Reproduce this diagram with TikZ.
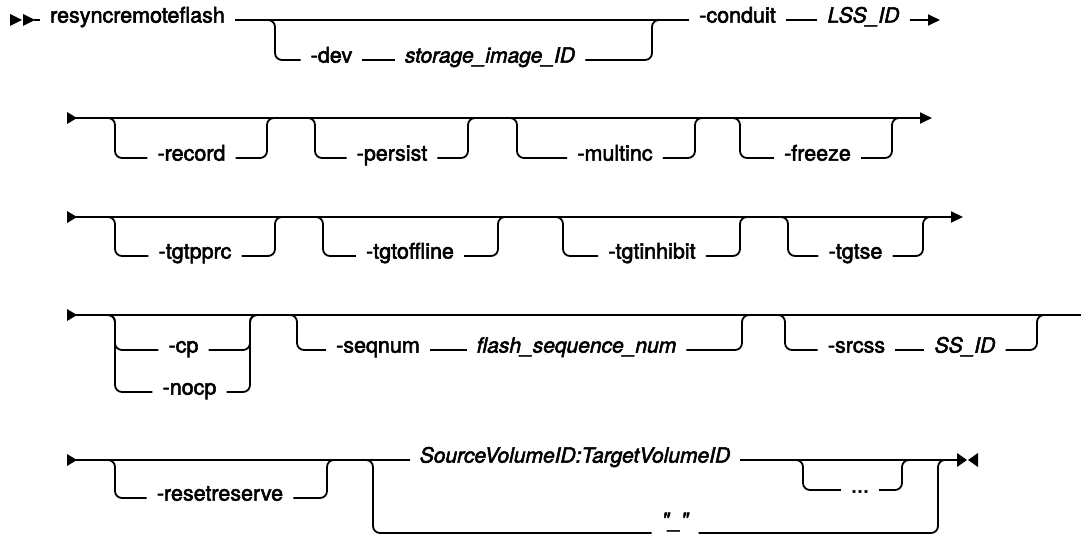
\documentclass[tikz,border=0pt]{standalone}
\usepackage{fontspec}
\newfontfamily\railfont{texgyreheros}[
    Extension=.otf,
    UprightFont=*-regular,
    ItalicFont=*-italic,
    FakeBold=2.5
]
\usetikzlibrary{arrows.meta}

\begin{document}
\begin{tikzpicture}[
    x=1pt, y=-1pt,
    rail/.style={line width=1.8pt, rounded corners=7pt},
    endtip/.style={-{Triangle[length=12pt, width=11pt]}},
    kw/.style={
        font=\railfont\fontsize{21.5}{26}\selectfont,
        inner xsep=10pt,
        inner ysep=0pt,
        text height=0.75em,
        text depth=0.23em
    },
    var/.style={kw, font=\railfont\itshape\fontsize{21}{26}\selectfont}
]
\useasboundingbox (0,0) rectangle (1081,535);

% row 1
\fill (10,14) -- (22,20) -- (10,26) -- cycle;
\fill (23,14) -- (35,20) -- (23,26) -- cycle;
\coordinate (r1s) at (34,20);
\node[kw] (cmd) at (137.5,20) {resyncremoteflash};
\node[kw] (dev) at (331.5,60) {-dev};
\node[var] (sid) at (490,60) {storage\_image\_ID};
\node[kw] (conduit) at (737.5,20) {-conduit};
\node[var] (lss) at (863.5,20) {LSS\_ID};
\coordinate (devL) at (275,20);
\coordinate (devR) at (652,20);
\coordinate (r1e) at (940,20);

\draw[rail] (r1s) -- (cmd.west);
\draw[rail] (cmd.east) -- (conduit.west);
\draw[rail] ([xshift=-10pt]devL) -- (devL) |- (dev.west);
\draw[rail] (dev) -- (sid);
\draw[rail] (sid.east) -| (devR) -- ([xshift=10pt]devR);
\draw[rail] (conduit) -- (lss);
\draw[rail, endtip] (lss) -- (r1e);

% row 2
\fill (67,112) -- (77,118) -- (67,124) -- cycle;
\coordinate (r2s) at (76,118);
\coordinate (r2e) at (932,118);
\node[kw] (record) at (191.5,158) {-record};
\node[kw] (persist) at (392,158) {-persist};
\node[kw] (multinc) at (615,158) {-multinc};
\node[kw] (freeze) at (817.5,158) {-freeze};
\coordinate (recL) at (115,118);
\coordinate (recR) at (267,118);
\coordinate (perL) at (315,118);
\coordinate (perR) at (468,118);
\coordinate (mulL) at (517,118);
\coordinate (mulR) at (695,118);
\coordinate (frzL) at (740,118);
\coordinate (frzR) at (892,118);

\draw[rail, endtip] (r2s) -- (r2e);
\draw[rail] ([xshift=-10pt]recL) -- (recL) |- (record.west) (record.east) -| (recR) -- ([xshift=10pt]recR);
\draw[rail] ([xshift=-10pt]perL) -- (perL) |- (persist.west) (persist.east) -| (perR) -- ([xshift=10pt]perR);
\draw[rail] ([xshift=-10pt]mulL) -- (mulL) |- (multinc.west) (multinc.east) -| (mulR) -- ([xshift=10pt]mulR);
\draw[rail] ([xshift=-10pt]frzL) -- (frzL) |- (freeze.west) (freeze.east) -| (frzR) -- ([xshift=10pt]frzR);

% row 3
\fill (67,211) -- (77,217) -- (67,223) -- cycle;
\coordinate (r3s) at (76,217);
\coordinate (r3e) at (963,217);
\node[kw] (tgtpprc) at (195,256) {-tgtpprc};
\node[kw] (tgtoffline) at (410,256) {-tgtoffline};
\node[kw] (tgtinhibit) at (652,256) {-tgtinhibit};
\node[kw] (tgtse) at (855.5,256) {-tgtse};
\coordinate (ppL) at (115,217);
\coordinate (ppR) at (275,217);
\coordinate (offL) at (323,217);
\coordinate (offR) at (498,217);
\coordinate (inhL) at (563,217);
\coordinate (inhR) at (740,217);
\coordinate (seL) at (788,217);
\coordinate (seR) at (923,217);

\draw[rail, endtip] (r3s) -- (r3e);
\draw[rail] ([xshift=-10pt]ppL) -- (ppL) |- (tgtpprc.west) (tgtpprc.east) -| (ppR) -- ([xshift=10pt]ppR);
\draw[rail] ([xshift=-10pt]offL) -- (offL) |- (tgtoffline.west) (tgtoffline.east) -| (offR) -- ([xshift=10pt]offR);
\draw[rail] ([xshift=-10pt]inhL) -- (inhL) |- (tgtinhibit.west) (tgtinhibit.east) -| (inhR) -- ([xshift=10pt]inhR);
\draw[rail] ([xshift=-10pt]seL) -- (seL) |- (tgtse.west) (tgtse.east) -| (seR) -- ([xshift=10pt]seR);

% row 4
\fill (67,309) -- (77,315) -- (67,321) -- cycle;
\coordinate (r4s) at (76,315);
\coordinate (r4e) at (1090,315);
\node[kw] (cp) at (183.5,350) {-cp};
\node[kw] (nocp) at (189.5,392) {-nocp};
\node[kw] (seqnum) at (378,350) {-seqnum};
\node[var] (fsn) at (576.5,350) {flash\_sequence\_num};
\node[kw] (srcss) at (856.5,350) {-srcss};
\node[var] (ssid) at (965,350) {SS\_ID};
\coordinate (cpL) at (115,315);
\coordinate (cpR) at (250,315);
\coordinate (sqL) at (297,315);
\coordinate (sqR) at (742,315);
\coordinate (ssL) at (785,315);
\coordinate (ssR) at (1037,315);

\draw[rail] (r4s) -- (r4e);
\draw[rail] ([xshift=-10pt]cpL) -- (cpL) |- (cp.west) (cp.east) -| (cpR) -- ([xshift=10pt]cpR);
\draw[rail] ([xshift=-10pt]cpL) -- (cpL) |- (nocp.west) (nocp.east) -| (cpR) -- ([xshift=10pt]cpR);
\draw[rail] ([xshift=-10pt]sqL) -- (sqL) |- (seqnum.west);
\draw[rail] (seqnum) -- (fsn);
\draw[rail] (fsn.east) -| (sqR) -- ([xshift=10pt]sqR);
\draw[rail] ([xshift=-10pt]ssL) -- (ssL) |- (srcss.west);
\draw[rail] (srcss) -- (ssid);
\draw[rail] (ssid.east) -| (ssR) -- ([xshift=10pt]ssR);

% row 5
\fill (67,454) -- (77,460) -- (67,466) -- cycle;
\coordinate (r5s) at (76,460);
\coordinate (r5e) at (957,460);
\node[kw] (resetreserve) at (220,498) {-resetreserve};
\node[var] (srctgt) at (575,460) {SourceVolumeID:TargetVolumeID};
\node[kw] (dots) at (860,490) {...};
\node[var] (dash) at (675,525) {"\_"};
\coordinate (rsL) at (115,460);
\coordinate (rsR) at (327,460);
\coordinate (chL) at (373,460);
\coordinate (chR) at (938,460);
\coordinate (rpL) at (803,460);
\coordinate (rpR) at (902,460);

\draw[rail] (r5s) -- (srctgt.west);
\draw[rail] ([xshift=-10pt]rsL) -- (rsL) |- (resetreserve.west) (resetreserve.east) -| (rsR) -- ([xshift=10pt]rsR);
\draw[rail] ([xshift=-10pt]chL) -- (chL) |- ([yshift=-8pt]dash.west) ([yshift=-8pt]dash.east) -| (chR) -- ([xshift=10pt]chR);
\draw[rail] (srctgt.east) -- (r5e);
\draw[rail] ([xshift=-10pt]rpL) -- (rpL) |- (dots.west) (dots.east) -| (rpR) -- ([xshift=10pt]rpR);
\fill (957,453) -- (967,460) -- (957,467) -- cycle;
\fill (978,453) -- (968,460) -- (978,467) -- cycle;

\end{tikzpicture}
\end{document}
